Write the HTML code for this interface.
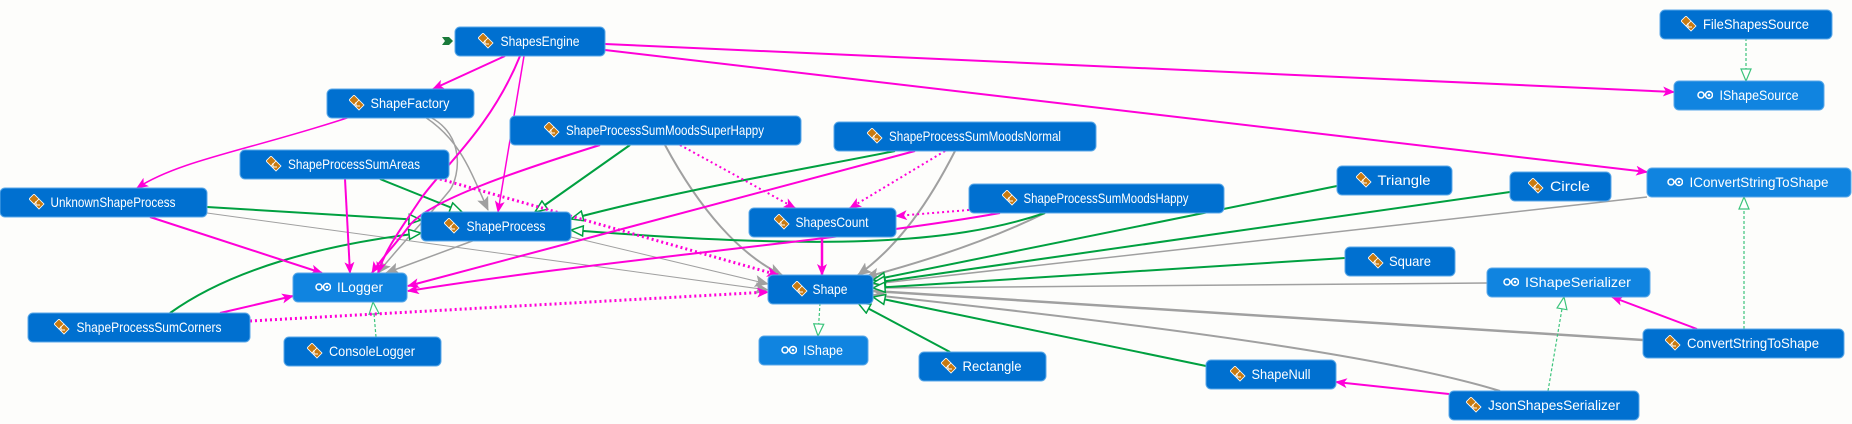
<!DOCTYPE html>
<html><head><meta charset="utf-8"><style>
html,body{margin:0;padding:0;background:#fdfdfb;}
svg{display:block;}
text{font-family:"Liberation Sans",sans-serif;font-size:14px;fill:#fff;text-anchor:middle;}
</style></head><body>
<svg width="1852" height="424" viewBox="0 0 1852 424" xmlns="http://www.w3.org/2000/svg">
<defs>
<marker id="am" markerWidth="12" markerHeight="10" refX="11" refY="5" orient="auto" markerUnits="userSpaceOnUse"><path d="M0,0 L12,5 L0,10 L3,5 z" fill="#ff00d8"/></marker>
<marker id="ag" markerWidth="14" markerHeight="12" refX="13" refY="6" orient="auto" markerUnits="userSpaceOnUse"><path d="M0,0 L14,6 L0,12 L3,6 z" fill="#a0a0a0"/></marker>
<marker id="at" markerWidth="14" markerHeight="12" refX="13" refY="6" orient="auto" markerUnits="userSpaceOnUse"><path d="M1,1 L13,6 L1,11 z" fill="#fff" stroke="#00a040" stroke-width="1.5"/></marker>
<marker id="al" markerWidth="14" markerHeight="12" refX="13" refY="6" orient="auto" markerUnits="userSpaceOnUse"><path d="M1,1 L13,6 L1,11 z" fill="#fff" stroke="#3cc47c" stroke-width="1.2"/></marker>
<symbol id="ci" viewBox="0 0 16 16"><path d="M5,0 L10,5 L5,10 L0,5z" fill="#c87a10" stroke="#fff" stroke-width="0.8"/><path d="M10,5 L15,10 L10,15 L5,10z" fill="#c87a10" stroke="#fff" stroke-width="0.8"/><path d="M7,7 v4 h4" fill="none" stroke="#fff" stroke-width="1"/></symbol>
<symbol id="ii" viewBox="0 0 16 16"><circle cx="4" cy="8" r="3" fill="none" stroke="#fff" stroke-width="1.5"/><line x1="7" y1="8" x2="9" y2="8" stroke="#fff" stroke-width="1.5"/><circle cx="12" cy="8" r="3.5" fill="none" stroke="#fff" stroke-width="1.5"/><circle cx="12" cy="8" r="1.3" fill="#fff"/></symbol>
</defs>

<g fill="none" stroke="#a0a0a0" stroke-width="1.5" marker-end="url(#ag)">
<path d="M425,117 C460,140 470,170 488,210"/>
<path d="M430,117 C465,135 460,175 450,190 C430,215 400,245 378,273"/>
<path d="M475,240 L386,273"/>
<path d="M207,213 L768,290" stroke-width="1"/>
<path d="M571,237 L768,284" stroke-width="1"/>
<path d="M665,145 C700,210 740,255 782,275" stroke-width="2"/>
<path d="M955,151 C930,200 900,245 858,275" stroke-width="2"/>
<path d="M1045,213 C990,240 930,260 866,277" stroke-width="2"/>
<path d="M1647,197 L873,284"/>
<path d="M1487,283 L873,288"/>
<path d="M1643,340 L873,291" stroke-width="2.5"/>
<path d="M1500,391 C1400,360 1200,330 873,295" stroke-width="2"/>
</g>

<g fill="none" stroke="#00a040" stroke-width="2" marker-end="url(#at)">
<path d="M380,179 L462,212"/>
<path d="M207,207 L421,220"/>
<path d="M630,145 L535,212"/>
<path d="M895,151 C800,170 680,190 571,219"/>
<path d="M1045,213 C950,245 820,250 571,230"/>
<path d="M170,313 C230,270 320,245 421,233"/>
<path d="M1337,186 L873,280"/>
<path d="M1510,192 L873,283"/>
<path d="M1345,258 L873,288"/>
<path d="M950,352 L858,303"/>
<path d="M1206,366 L873,297"/>
</g>

<g fill="none" stroke="#3cc47c" stroke-width="1.2" stroke-dasharray="3,2" marker-end="url(#al)">
<path d="M1746,38 L1746,81"/>
<path d="M376,337 L373,302"/>
<path d="M820,303 L818,336"/>
<path d="M1548,391 L1564,297"/>
<path d="M1744,329 L1744,197"/>
</g>

<g fill="none" stroke="#ff00d8" stroke-width="2" marker-end="url(#am)">
<path d="M505,56 L433,89"/>
<path d="M605,44 L1674,92"/>
<path d="M605,50 L1647,172"/>
<path d="M524,56 L498,212" stroke-width="1.5"/>
<path d="M520,56 C490,130 440,170 420,200 C400,230 385,250 378,273"/>
<path d="M350,117 C250,150 180,160 137,188" stroke-width="1.5"/>
<path d="M345,179 L350,273"/>
<path d="M600,145 C520,170 430,200 410,225 C395,245 380,260 372,273"/>
<path d="M915,151 L408,286"/>
<path d="M1000,213 C850,240 600,260 408,291"/>
<path d="M150,217 L322,273"/>
<path d="M220,313 L293,296"/>
<path d="M822,237 L822,275" stroke-width="2.5"/>
<path d="M1697,329 L1612,297"/>
<path d="M1449,394 L1336,382"/>
</g>

<g fill="none" stroke="#ff00d8" stroke-width="2" stroke-dasharray="2,3" marker-end="url(#am)">
<path d="M680,145 L795,208"/>
<path d="M945,151 L850,208"/>
<path d="M969,210 L896,216"/>
<path d="M440,179 L778,275" stroke-width="3"/>
<path d="M250,321 L768,292" stroke-width="3"/>
</g>

<path d="M442,37 L449,37 L453,41 L449,45 L442,45 L445,41z" fill="#1a7a3a"/>

<g stroke="#5aa8e8" stroke-width="1">
<rect x="455" y="27" width="150" height="29" rx="5" fill="#0070d0"/>
<rect x="1660" y="10" width="172" height="29" rx="5" fill="#0070d0"/>
<rect x="1674" y="81" width="150" height="29" rx="5" fill="#1084e0"/>
<rect x="327" y="89" width="147" height="29" rx="5" fill="#0070d0"/>
<rect x="510" y="116" width="291" height="29" rx="5" fill="#0070d0"/>
<rect x="834" y="122" width="262" height="29" rx="5" fill="#0070d0"/>
<rect x="240" y="150" width="209" height="29" rx="5" fill="#0070d0"/>
<rect x="0" y="188" width="207" height="29" rx="5" fill="#0070d0"/>
<rect x="421" y="212" width="150" height="29" rx="5" fill="#0070d0"/>
<rect x="749" y="208" width="147" height="29" rx="5" fill="#0070d0"/>
<rect x="969" y="184" width="255" height="29" rx="5" fill="#0070d0"/>
<rect x="1337" y="166" width="115" height="29" rx="5" fill="#0070d0"/>
<rect x="1510" y="172" width="101" height="29" rx="5" fill="#0070d0"/>
<rect x="1647" y="168" width="204" height="29" rx="5" fill="#1084e0"/>
<rect x="1345" y="247" width="110" height="29" rx="5" fill="#0070d0"/>
<rect x="293" y="273" width="114" height="29" rx="5" fill="#1084e0"/>
<rect x="768" y="275" width="105" height="29" rx="5" fill="#0070d0"/>
<rect x="1487" y="268" width="163" height="29" rx="5" fill="#1084e0"/>
<rect x="28" y="313" width="222" height="29" rx="5" fill="#0070d0"/>
<rect x="284" y="337" width="157" height="29" rx="5" fill="#0070d0"/>
<rect x="759" y="336" width="109" height="29" rx="5" fill="#1084e0"/>
<rect x="919" y="352" width="127" height="29" rx="5" fill="#0070d0"/>
<rect x="1206" y="360" width="130" height="29" rx="5" fill="#0070d0"/>
<rect x="1643" y="329" width="201" height="29" rx="5" fill="#0070d0"/>
<rect x="1449" y="391" width="190" height="29" rx="5" fill="#0070d0"/>
</g>

<g>
<use href="#ci" x="478" y="33" width="16" height="16"/><text x="540" y="46" textLength="79" lengthAdjust="spacingAndGlyphs">ShapesEngine</text>
<use href="#ci" x="1681" y="16" width="16" height="16"/><text x="1756" y="29" textLength="106" lengthAdjust="spacingAndGlyphs">FileShapesSource</text>
<use href="#ii" x="1697" y="87" width="16" height="16"/><text x="1759" y="100" textLength="79" lengthAdjust="spacingAndGlyphs">IShapeSource</text>
<use href="#ci" x="349" y="95" width="16" height="16"/><text x="410" y="108" textLength="79" lengthAdjust="spacingAndGlyphs">ShapeFactory</text>
<use href="#ci" x="544" y="122" width="16" height="16"/><text x="665" y="135" textLength="198" lengthAdjust="spacingAndGlyphs">ShapeProcessSumMoodsSuperHappy</text>
<use href="#ci" x="867" y="128" width="16" height="16"/><text x="975" y="141" textLength="172" lengthAdjust="spacingAndGlyphs">ShapeProcessSumMoodsNormal</text>
<use href="#ci" x="266" y="156" width="16" height="16"/><text x="354" y="169" textLength="132" lengthAdjust="spacingAndGlyphs">ShapeProcessSumAreas</text>
<use href="#ci" x="29" y="194" width="16" height="16"/><text x="113" y="207" textLength="125" lengthAdjust="spacingAndGlyphs">UnknownShapeProcess</text>
<use href="#ci" x="444" y="218" width="16" height="16"/><text x="506" y="231" textLength="79" lengthAdjust="spacingAndGlyphs">ShapeProcess</text>
<use href="#ci" x="774" y="214" width="16" height="16"/><text x="832" y="227" textLength="73" lengthAdjust="spacingAndGlyphs">ShapesCount</text>
<use href="#ci" x="1002" y="190" width="16" height="16"/><text x="1106" y="203" textLength="165" lengthAdjust="spacingAndGlyphs">ShapeProcessSumMoodsHappy</text>
<use href="#ci" x="1356" y="172" width="16" height="16"/><text x="1404" y="185" textLength="53" lengthAdjust="spacingAndGlyphs">Triangle</text>
<use href="#ci" x="1528" y="178" width="16" height="16"/><text x="1570" y="191" textLength="40" lengthAdjust="spacingAndGlyphs">Circle</text>
<use href="#ii" x="1667" y="174" width="16" height="16"/><text x="1759" y="187" textLength="139" lengthAdjust="spacingAndGlyphs">IConvertStringToShape</text>
<use href="#ci" x="1368" y="253" width="16" height="16"/><text x="1410" y="266" textLength="42" lengthAdjust="spacingAndGlyphs">Square</text>
<use href="#ii" x="315" y="279" width="16" height="16"/><text x="360" y="292" textLength="46" lengthAdjust="spacingAndGlyphs">ILogger</text>
<use href="#ci" x="792" y="281" width="16" height="16"/><text x="830" y="294" textLength="35" lengthAdjust="spacingAndGlyphs">Shape</text>
<use href="#ii" x="1503" y="274" width="16" height="16"/><text x="1578" y="287" textLength="106" lengthAdjust="spacingAndGlyphs">IShapeSerializer</text>
<use href="#ci" x="54" y="319" width="16" height="16"/><text x="149" y="332" textLength="145" lengthAdjust="spacingAndGlyphs">ShapeProcessSumCorners</text>
<use href="#ci" x="307" y="343" width="16" height="16"/><text x="372" y="356" textLength="86" lengthAdjust="spacingAndGlyphs">ConsoleLogger</text>
<use href="#ii" x="781" y="342" width="16" height="16"/><text x="823" y="355" textLength="40" lengthAdjust="spacingAndGlyphs">IShape</text>
<use href="#ci" x="941" y="358" width="16" height="16"/><text x="992" y="371" textLength="59" lengthAdjust="spacingAndGlyphs">Rectangle</text>
<use href="#ci" x="1230" y="366" width="16" height="16"/><text x="1281" y="379" textLength="59" lengthAdjust="spacingAndGlyphs">ShapeNull</text>
<use href="#ci" x="1665" y="335" width="16" height="16"/><text x="1753" y="348" textLength="132" lengthAdjust="spacingAndGlyphs">ConvertStringToShape</text>
<use href="#ci" x="1466" y="397" width="16" height="16"/><text x="1554" y="410" textLength="132" lengthAdjust="spacingAndGlyphs">JsonShapesSerializer</text>
</g>
</svg>
</body></html>
